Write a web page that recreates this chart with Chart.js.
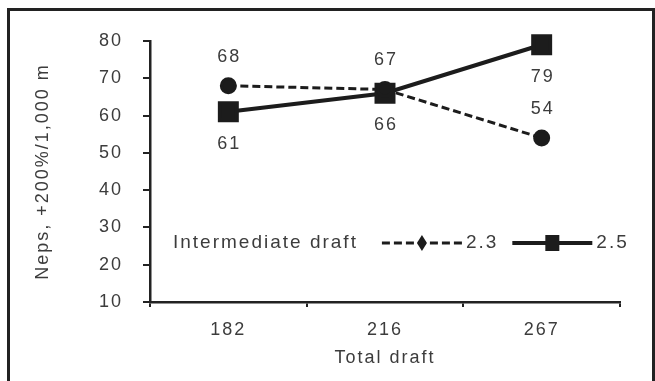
<!DOCTYPE html>
<html>
<head>
<meta charset="utf-8">
<script src="https://cdn.jsdelivr.net/npm/chart.js@4/dist/chart.umd.min.js"></script>
<style>
  html, body { margin: 0; padding: 0; background: #fff; overflow: hidden; }
  #wrap { position: relative; width: 655px; height: 381px; }
  #frame { position: absolute; left: 7px; top: 8px; width: 648px; height: 420px; border: 3px solid #222; box-sizing: border-box; pointer-events: none; }
  canvas { filter: blur(0.7px); }
</style>
</head>
<body>
<div id="wrap">
  <canvas id="neps" width="655" height="381"></canvas>
  <div id="frame"></div>
</div>
<script>
// data
const totalDraft = ['182', '216', '267'];
const draft23 = [68, 67, 54];
const draft25 = [61, 66, 79];
const seriesNames = ['2.3', '2.5'];
const legendTitle = 'Intermediate draft';
const yMin = 10, yMax = 80, yStep = 10;

const lineColor = '#1c1c1c';
const textColor = '#3c3c3c';
const fontFamily = '"Liberation Sans", Arial, sans-serif';

Chart.defaults.font.family = fontFamily;
Chart.defaults.font.size = 18;
Chart.defaults.color = textColor;

// numbers next to each point: 2.3 above, 2.5 below
const valueLabels = {
  id: 'valueLabels',
  afterDatasetsDraw(chart) {
    const ctx = chart.ctx;
    ctx.save();
    ctx.font = '18px ' + fontFamily;
    ctx.fillStyle = textColor;
    ctx.textAlign = 'center';
    ctx.textBaseline = 'middle';
    chart.data.datasets.forEach((ds, i) => {
      const meta = chart.getDatasetMeta(i);
      meta.data.forEach((pt, j) => {
        const dy = i === 0 ? -29 : 32;
        ctx.fillText(String(ds.data[j]), pt.x + 1, pt.y + dy);
      });
    });
    ctx.restore();
  }
};

// legend sits inside the plot, one row
const inlineLegend = {
  id: 'inlineLegend',
  afterDatasetsDraw(chart) {
    const { ctx, chartArea } = chart;
    let x = chartArea.left + 23;
    const y = chartArea.top + 202;
    ctx.save();
    ctx.font = '19px ' + fontFamily;
    ctx.textBaseline = 'middle';
    ctx.textAlign = 'left';
    ctx.fillStyle = textColor;
    ctx.fillText(legendTitle, x, y);
    x += ctx.measureText(legendTitle).width + 24;
    chart.data.datasets.forEach((ds) => {
      const len = 80;
      ctx.strokeStyle = lineColor;
      ctx.lineWidth = ds.borderWidth;
      ctx.setLineDash(ds.borderDash || []);
      ctx.beginPath();
      ctx.moveTo(x, y);
      ctx.lineTo(x + len, y);
      ctx.stroke();
      ctx.setLineDash([]);
      ctx.fillStyle = lineColor;
      const cx = x + len / 2;
      if (ds.pointStyle === 'rect') {
        ctx.fillRect(cx - 7, y - 8, 14, 16);
      } else {
        ctx.beginPath();
        ctx.moveTo(cx, y - 8);
        ctx.lineTo(cx + 5, y);
        ctx.lineTo(cx, y + 8);
        ctx.lineTo(cx - 5, y);
        ctx.closePath();
        ctx.fill();
      }
      ctx.fillStyle = textColor;
      ctx.fillText(ds.label, x + len + 4, y);
      x += len + 4 + ctx.measureText(ds.label).width + 14;
    });
    ctx.restore();
  }
};

// the scanned figure has wide letter spacing on all text
const spacing = {
  id: 'spacing',
  beforeDraw(chart) { chart.ctx.letterSpacing = '2px'; }
};

new Chart(document.getElementById('neps'), {
  type: 'line',
  data: {
    labels: totalDraft,
    datasets: [
      {
        label: seriesNames[0],
        data: draft23,
        borderColor: lineColor,
        backgroundColor: lineColor,
        borderWidth: 3,
        borderDash: [8, 4],
        pointStyle: 'circle',
        pointRadius: 7,
        tension: 0,
        clip: false
      },
      {
        label: seriesNames[1],
        data: draft25,
        borderColor: lineColor,
        backgroundColor: lineColor,
        borderWidth: 4,
        pointStyle: 'rect',
        pointRadius: 12,
        tension: 0,
        clip: false
      }
    ]
  },
  options: {
    responsive: false,
    animation: false,
    devicePixelRatio: 1,
    layout: { padding: { left: 0, top: 41, right: 35, bottom: 0 } },
    plugins: {
      legend: { display: false },
      tooltip: { enabled: false }
    },
    scales: {
      x: {
        type: 'category',
        offset: true,
        afterFit(scale) { scale.height = 79; },
        grid: { offset: true, drawOnChartArea: false, drawTicks: true, tickLength: 5, color: '#222', lineWidth: 2 },
        border: { display: true, color: '#222', width: 2.5 },
        ticks: { padding: 12, color: textColor, font: { size: 18 } },
        title: { display: true, text: 'Total draft', color: textColor, font: { size: 18 }, padding: { top: 0, bottom: 12 } }
      },
      y: {
        min: yMin,
        max: yMax,
        afterFit(scale) { scale.width = 150; },
        grid: { drawOnChartArea: false, drawTicks: true, tickLength: 7, color: '#222', lineWidth: 2 },
        border: { display: true, color: '#222', width: 2.5 },
        ticks: { stepSize: yStep, padding: 20, color: textColor, font: { size: 18 } },
        title: { display: true, text: 'Neps, +200%/1,000 m', color: textColor, font: { size: 18 }, padding: { top: 32, bottom: 0 } }
      }
    }
  },
  plugins: [spacing, valueLabels, inlineLegend]
});
</script>
</body>
</html>
